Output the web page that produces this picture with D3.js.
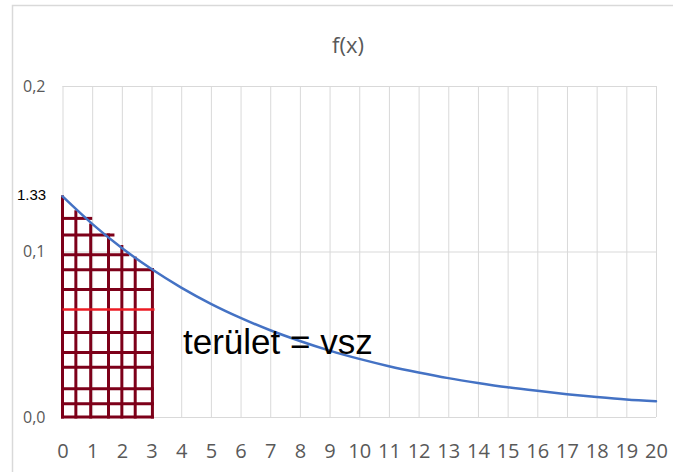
<!DOCTYPE html>
<html>
<head>
<meta charset="utf-8">
<script src="https://cdn.jsdelivr.net/npm/d3@7"></script>
<style>
  body { margin: 0; background: #fff; }
  svg { display: block; }
</style>
</head>
<body>
<div id="plot"></div>
<script>
// Values
const xValues = [0, 1, 2, 3, 4, 5, 6, 7, 8, 9, 10, 11, 12, 13, 14, 15, 16, 17, 18, 19, 20];
const fValues = [0.1333, 0.1167, 0.1021, 0.0894, 0.0782, 0.0684, 0.0599, 0.0524, 0.0459, 0.0401,
  0.0351, 0.0307, 0.0269, 0.0235, 0.0206, 0.0180, 0.0158, 0.0138, 0.0121, 0.0106, 0.0095];
const yTicks = [0, 0.1, 0.2];

// hand-drawn hatch under the curve, 0..3
const hatchX = [0, 0.45, 0.95, 1.55, 2.0, 2.45, 3.03];
const hatchXTop = [0.133, 0.124, 0.116, 0.110, 0.103, 0.096, 0.089];
const hatchY = [0.120, 0.110, 0.098, 0.089, 0.077, 0.051, 0.039, 0.030, 0.017, 0.008, 0.0];
const hatchYEnd = [0.95, 1.7, 2.2, 3.03, 3.03, 3.03, 3.03, 3.03, 3.03, 3.03, 3.03];
const redY = 0.065;
const redEnd = [0, 3.1];

const W = 673, H = 472;
const margin = { top: 86, right: 17, bottom: 55, left: 62.5 };

const svg = d3.select("#plot")
  .append("svg")
  .attr("width", W)
  .attr("height", H);

// chart frame
svg.append("path")
  .attr("d", `M12.5,${H} V5.5 H${W}`)
  .attr("fill", "none")
  .attr("stroke", "#d9d9d9")
  .attr("stroke-width", 1.5);

const x = d3.scaleLinear().domain([0, 20]).range([margin.left, W - margin.right]);
const y = d3.scaleLinear().domain([0, 0.2]).range([417, margin.top]);

const huFmt = d3.formatLocale({ decimal: ",", thousands: " ", grouping: [3], currency: ["", ""] }).format(".1f");

// vertical gridlines + x labels
const gx = svg.append("g")
  .attr("transform", `translate(0, ${y(0)})`)
  .call(d3.axisBottom(x).tickValues(xValues).tickSize(-(y(0) - y(0.2))).tickPadding(27).tickFormat(d3.format("d")));
gx.select(".domain").remove();
gx.selectAll("line").attr("stroke", "#d9d9d9");
gx.selectAll("text")
  .attr("fill", "#595959")
  .style("font-family", "'Open Sans', sans-serif")
  .style("font-size", "20px");

// horizontal gridlines + y labels
const gy = svg.append("g")
  .attr("transform", `translate(${x(0)}, 0)`)
  .call(d3.axisLeft(y).tickValues(yTicks).tickSize(-(x(20) - x(0))).tickPadding(17).tickFormat(huFmt));
gy.select(".domain").remove();
gy.selectAll("line").attr("stroke", "#d9d9d9");
gy.selectAll("text")
  .attr("fill", "#595959")
  .style("font-family", "'Open Sans', sans-serif")
  .style("font-size", "16px");

// title
svg.append("text")
  .attr("x", 348)
  .attr("y", 53)
  .attr("text-anchor", "middle")
  .attr("fill", "#595959")
  .style("font-family", "'Open Sans', sans-serif")
  .style("font-size", "22px")
  .text("f(x)");

// hatch
const hatch = svg.append("g")
  .attr("stroke", "#7d0019")
  .attr("stroke-width", 3)
  .attr("stroke-linecap", "square");

hatch.selectAll(".hv")
  .data(hatchX)
  .enter()
  .append("line")
  .attr("x1", d => x(d))
  .attr("x2", d => x(d))
  .attr("y1", y(0))
  .attr("y2", (d, i) => y(hatchXTop[i]));

hatch.selectAll(".hh")
  .data(hatchY)
  .enter()
  .append("line")
  .attr("x1", x(0))
  .attr("x2", (d, i) => x(hatchYEnd[i]))
  .attr("y1", d => y(d))
  .attr("y2", d => y(d));

svg.append("line")
  .attr("x1", x(redEnd[0]))
  .attr("x2", x(redEnd[1]))
  .attr("y1", y(redY))
  .attr("y2", y(redY))
  .attr("stroke", "#ec1c24")
  .attr("stroke-width", 2.5);

// curve
const line = d3.line()
  .x((d, i) => x(xValues[i]))
  .y(d => y(d))
  .curve(d3.curveMonotoneX);

svg.append("path")
  .datum(fValues)
  .attr("d", line)
  .attr("fill", "none")
  .attr("stroke", "#4472c4")
  .attr("stroke-width", 2.5)
  .attr("stroke-linecap", "round");

// annotations
svg.append("text")
  .attr("x", 17)
  .attr("y", 200)
  .attr("fill", "#000")
  .style("font-family", "'Liberation Sans', Arial, sans-serif")
  .style("font-size", "15px")
  .text("1.33");

svg.append("text")
  .attr("x", 183)
  .attr("y", 354)
  .attr("fill", "#000")
  .style("font-family", "'Liberation Sans', Arial, sans-serif")
  .style("font-size", "35px")
  .text("terület = vsz");
</script>
</body>
</html>
